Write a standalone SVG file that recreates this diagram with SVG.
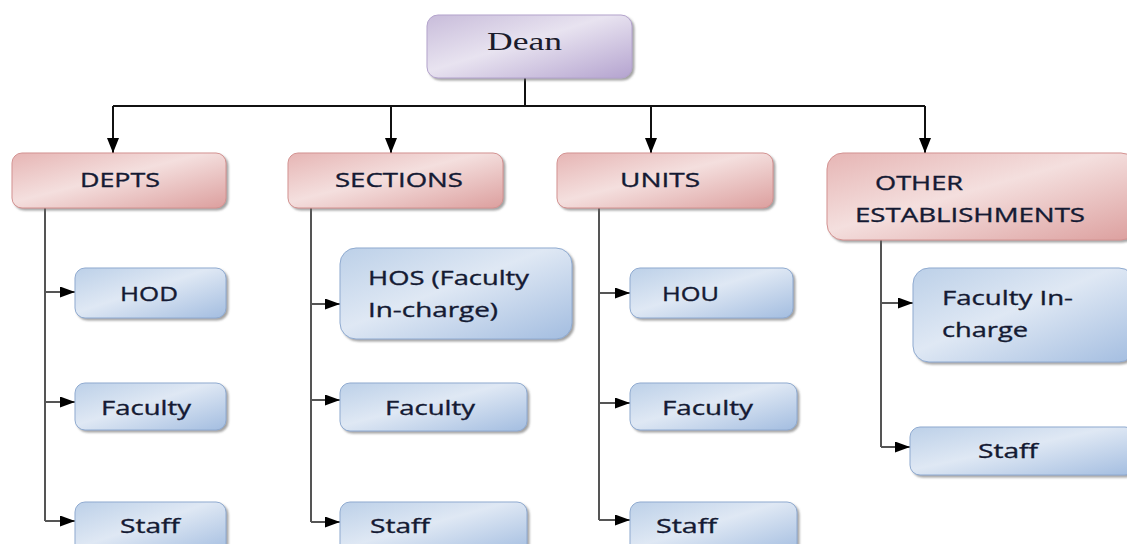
<svg xmlns="http://www.w3.org/2000/svg" width="1127" height="544" viewBox="0 0 1127 544">
<defs>
<linearGradient id="gP" x1="0" y1="0" x2="1" y2="1"><stop offset="0" stop-color="#e6b5b4"/><stop offset="0.45" stop-color="#f4dfde"/><stop offset="1" stop-color="#dc9f9e"/></linearGradient>
<linearGradient id="gB" x1="0" y1="0" x2="1" y2="1"><stop offset="0" stop-color="#bcd0e8"/><stop offset="0.45" stop-color="#dfe8f4"/><stop offset="1" stop-color="#a3bde0"/></linearGradient>
<linearGradient id="gL" x1="0" y1="0" x2="1" y2="1"><stop offset="0" stop-color="#c8bcda"/><stop offset="0.45" stop-color="#e8e3f0"/><stop offset="1" stop-color="#b4a3cf"/></linearGradient>
<filter id="sh" x="-5%" y="-10%" width="115%" height="130%"><feDropShadow dx="2" dy="2" stdDeviation="1.2" flood-color="#666" flood-opacity="0.6"/></filter>
<marker id="ah" viewBox="0 0 15 11" refX="15" refY="5.5" markerWidth="15" markerHeight="11" markerUnits="userSpaceOnUse" orient="auto"><path d="M0,0 L15,5.5 L0,11 Z" fill="#000"/></marker>
<marker id="ahD" viewBox="0 0 15 12" refX="15" refY="6" markerWidth="15" markerHeight="12" markerUnits="userSpaceOnUse" orient="auto"><path d="M0,0 L15,6 L0,12 Z" fill="#000"/></marker>
</defs>
<style>
.p{fill:url(#gP);stroke:#d39291;stroke-width:1;filter:url(#sh)}
.b{fill:url(#gB);stroke:#8faad0;stroke-width:1;filter:url(#sh)}
.l{fill:url(#gL);stroke:#b3a3cc;stroke-width:1;filter:url(#sh)}
.t{font-family:"Open Sans","Liberation Sans",sans-serif;font-size:20px;fill:#141a33;stroke:#141a33;stroke-width:0.35}
.d{font-family:"Liberation Serif",serif;font-size:26px;fill:#1b1b2b}
.c{fill:none;stroke:#111;stroke-width:2}
.g{fill:none;stroke:#555;stroke-width:2}
</style>
<g id="connectors">
<path class="c" d="M525,78 V106 M113,106 H925"/>
<path class="c" d="M113,106 V153" marker-end="url(#ahD)"/>
<path class="c" d="M391,106 V153" marker-end="url(#ahD)"/>
<path class="c" d="M651,106 V153" marker-end="url(#ahD)"/>
<path class="c" d="M925,106 V153" marker-end="url(#ahD)"/>
<path class="g" d="M45,208 V521"/>
<path class="g" d="M45,292 H75" marker-end="url(#ah)"/>
<path class="g" d="M45,402 H75" marker-end="url(#ah)"/>
<path class="g" d="M45,521 H75" marker-end="url(#ah)"/>
<path class="g" d="M311,208 V522"/>
<path class="g" d="M311,304 H340" marker-end="url(#ah)"/>
<path class="g" d="M311,400 H340" marker-end="url(#ah)"/>
<path class="g" d="M311,522 H340" marker-end="url(#ah)"/>
<path class="g" d="M599,208 V520"/>
<path class="g" d="M599,293 H630" marker-end="url(#ah)"/>
<path class="g" d="M599,403 H630" marker-end="url(#ah)"/>
<path class="g" d="M599,520 H630" marker-end="url(#ah)"/>
<path class="g" d="M881,240 V447"/>
<path class="g" d="M881,303 H913" marker-end="url(#ah)"/>
<path class="g" d="M881,447 H910" marker-end="url(#ah)"/>
</g>
<g id="dean"><rect class="l" x="427" y="15" width="205" height="63" rx="11"/><text class="d" x="487" y="50" textLength="75" lengthAdjust="spacingAndGlyphs">Dean</text></g>
<g id="depts"><rect class="p" x="12" y="153" width="214" height="55" rx="10"/><text class="t" x="80" y="187" textLength="80" lengthAdjust="spacingAndGlyphs">DEPTS</text></g>
<g id="sections"><rect class="p" x="288" y="153" width="215" height="55" rx="10"/><text class="t" x="335" y="187" textLength="128" lengthAdjust="spacingAndGlyphs">SECTIONS</text></g>
<g id="units"><rect class="p" x="557" y="153" width="216" height="55" rx="10"/><text class="t" x="620" y="187" textLength="80" lengthAdjust="spacingAndGlyphs">UNITS</text></g>
<g id="other"><rect class="p" x="827" y="153" width="310" height="87" rx="16"/><text class="t" x="875" y="190" textLength="88" lengthAdjust="spacingAndGlyphs">OTHER</text><text class="t" x="855" y="222" textLength="230" lengthAdjust="spacingAndGlyphs">ESTABLISHMENTS</text></g>
<g id="hod"><rect class="b" x="75" y="268" width="151" height="50" rx="10"/><text class="t" x="120" y="301" textLength="58" lengthAdjust="spacingAndGlyphs">HOD</text></g>
<g id="depts-faculty"><rect class="b" x="75" y="383" width="151" height="47" rx="10"/><text class="t" x="101" y="415" textLength="90" lengthAdjust="spacingAndGlyphs">Faculty</text></g>
<g id="depts-staff"><rect class="b" x="75" y="502" width="151" height="52" rx="10"/><text class="t" x="120" y="533" textLength="60" lengthAdjust="spacingAndGlyphs">Staff</text></g>
<g id="hos"><rect class="b" x="340" y="248" width="232" height="91" rx="16"/><text class="t" x="368" y="285" textLength="161" lengthAdjust="spacingAndGlyphs">HOS (Faculty</text><text class="t" x="368" y="317" textLength="130" lengthAdjust="spacingAndGlyphs">In-charge)</text></g>
<g id="sections-faculty"><rect class="b" x="340" y="383" width="187" height="48" rx="10"/><text class="t" x="385" y="415" textLength="90" lengthAdjust="spacingAndGlyphs">Faculty</text></g>
<g id="sections-staff"><rect class="b" x="340" y="502" width="187" height="52" rx="10"/><text class="t" x="370" y="533" textLength="60" lengthAdjust="spacingAndGlyphs">Staff</text></g>
<g id="hou"><rect class="b" x="630" y="268" width="163" height="50" rx="10"/><text class="t" x="662" y="301" textLength="57" lengthAdjust="spacingAndGlyphs">HOU</text></g>
<g id="units-faculty"><rect class="b" x="630" y="383" width="167" height="47" rx="10"/><text class="t" x="662" y="415" textLength="91" lengthAdjust="spacingAndGlyphs">Faculty</text></g>
<g id="units-staff"><rect class="b" x="630" y="502" width="167" height="52" rx="10"/><text class="t" x="656" y="533" textLength="61" lengthAdjust="spacingAndGlyphs">Staff</text></g>
<g id="faculty-incharge"><rect class="b" x="913" y="268" width="222" height="94" rx="16"/><text class="t" x="942" y="305" textLength="131" lengthAdjust="spacingAndGlyphs">Faculty In-</text><text class="t" x="942" y="337" textLength="86" lengthAdjust="spacingAndGlyphs">charge</text></g>
<g id="other-staff"><rect class="b" x="910" y="427" width="225" height="48" rx="10"/><text class="t" x="978" y="458" textLength="60" lengthAdjust="spacingAndGlyphs">Staff</text></g>
</svg>
